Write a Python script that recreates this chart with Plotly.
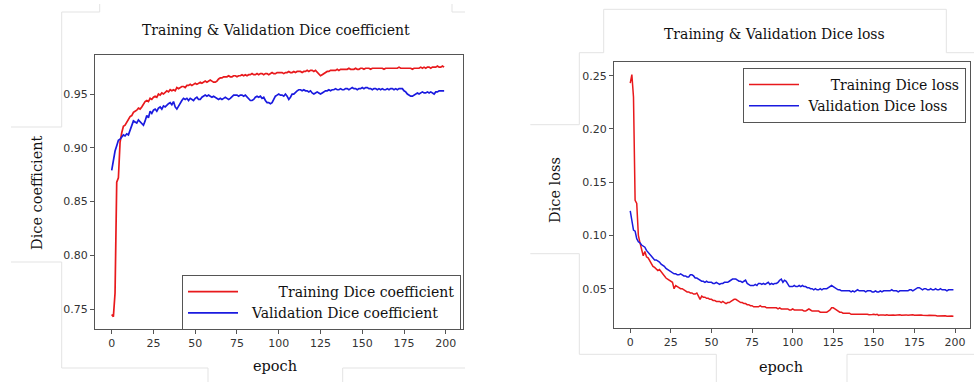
import plotly.graph_objects as go

epochs = list(range(200))

train_dice = [
    0.745, 0.743, 0.765, 0.868, 0.872, 0.905, 0.914, 0.920, 0.921, 0.924,
    0.927, 0.929, 0.930, 0.933, 0.934, 0.935, 0.937, 0.936, 0.938, 0.941,
    0.943, 0.944, 0.943, 0.946, 0.945, 0.947, 0.948, 0.947, 0.950, 0.949,
    0.951, 0.950, 0.952, 0.953, 0.952, 0.954, 0.953, 0.954, 0.953, 0.956,
    0.955, 0.956, 0.957, 0.957, 0.956, 0.958, 0.958, 0.959, 0.958, 0.959,
    0.960, 0.959, 0.960, 0.961, 0.960, 0.961, 0.962, 0.961, 0.962, 0.963,
    0.962, 0.961, 0.961, 0.962, 0.964, 0.965, 0.965, 0.966, 0.966, 0.966,
    0.967, 0.966, 0.966, 0.967, 0.967, 0.966, 0.967, 0.967, 0.968, 0.967,
    0.968, 0.967, 0.968, 0.968, 0.969, 0.968, 0.968, 0.969, 0.968, 0.969,
    0.969, 0.968, 0.969, 0.969, 0.968, 0.969, 0.970, 0.969, 0.969, 0.970,
    0.970, 0.970, 0.970, 0.969, 0.970, 0.970, 0.971, 0.970, 0.970, 0.971,
    0.970, 0.971, 0.971, 0.971, 0.970, 0.971, 0.971, 0.972, 0.971, 0.972,
    0.972, 0.971, 0.972, 0.970, 0.968, 0.967, 0.968, 0.969, 0.970, 0.971,
    0.971, 0.972, 0.972, 0.972, 0.972, 0.973, 0.972, 0.973, 0.973, 0.973,
    0.973, 0.973, 0.974, 0.973, 0.973, 0.973, 0.974, 0.973, 0.973, 0.974,
    0.974, 0.973, 0.974, 0.974, 0.974, 0.973, 0.974, 0.974, 0.974, 0.974,
    0.974, 0.974, 0.974, 0.973, 0.974, 0.974, 0.974, 0.974, 0.974, 0.974,
    0.974, 0.974, 0.975, 0.974, 0.974, 0.974, 0.974, 0.974, 0.974, 0.974,
    0.973, 0.974, 0.974, 0.974, 0.974, 0.975, 0.974, 0.975, 0.974, 0.975,
    0.975, 0.974, 0.975, 0.975, 0.975, 0.976, 0.975, 0.975, 0.976, 0.975,
]

val_dice = [
    0.879, 0.889, 0.897, 0.902, 0.907, 0.908, 0.910, 0.912, 0.911, 0.913,
    0.912, 0.916, 0.920, 0.925, 0.924, 0.923, 0.926, 0.924, 0.922, 0.921,
    0.925, 0.930, 0.928, 0.934, 0.932, 0.935, 0.936, 0.934, 0.937, 0.938,
    0.936, 0.939, 0.938, 0.940, 0.941, 0.942, 0.940, 0.943, 0.938, 0.936,
    0.939, 0.942, 0.944, 0.946, 0.945, 0.946, 0.944, 0.946, 0.945, 0.944,
    0.946, 0.947, 0.945, 0.945, 0.947, 0.948, 0.949, 0.948, 0.949, 0.948,
    0.947, 0.948, 0.947, 0.946, 0.945, 0.946, 0.945, 0.946, 0.947, 0.946,
    0.945, 0.946, 0.948, 0.949, 0.949, 0.949, 0.948, 0.949, 0.949, 0.948,
    0.949, 0.947, 0.945, 0.944, 0.944, 0.945, 0.947, 0.948, 0.947, 0.948,
    0.946, 0.947, 0.944, 0.942, 0.942, 0.941, 0.942, 0.945, 0.948, 0.949,
    0.950, 0.949, 0.949, 0.948, 0.950, 0.948, 0.945, 0.947, 0.950, 0.950,
    0.952, 0.953, 0.954, 0.954, 0.953, 0.954, 0.953, 0.953, 0.952, 0.953,
    0.951, 0.950, 0.951, 0.952, 0.951, 0.950, 0.951, 0.952, 0.953, 0.953,
    0.954, 0.953, 0.954, 0.954, 0.955, 0.954, 0.954, 0.955, 0.954, 0.954,
    0.955, 0.955, 0.954, 0.955, 0.956, 0.955, 0.955, 0.954, 0.955, 0.955,
    0.956, 0.955, 0.956, 0.956, 0.955, 0.955, 0.954, 0.955, 0.955, 0.954,
    0.955, 0.954, 0.955, 0.954, 0.954, 0.955, 0.954, 0.955, 0.955, 0.954,
    0.955, 0.954, 0.955, 0.955, 0.955, 0.953, 0.952, 0.950, 0.949, 0.948,
    0.948, 0.949, 0.950, 0.951, 0.950, 0.951, 0.952, 0.951, 0.951, 0.952,
    0.951, 0.952, 0.951, 0.950, 0.952, 0.952, 0.953, 0.953, 0.953, 0.953,
]

train_loss = [
    0.243, 0.251, 0.230, 0.133, 0.130, 0.100, 0.093, 0.086, 0.081, 0.085,
    0.080, 0.079, 0.076, 0.074, 0.071, 0.070, 0.068, 0.067, 0.068, 0.066,
    0.063, 0.062, 0.060, 0.059, 0.058, 0.057, 0.056, 0.050, 0.053, 0.052,
    0.051, 0.050, 0.050, 0.049, 0.048, 0.047, 0.047, 0.046, 0.046, 0.045,
    0.045, 0.046, 0.043, 0.040, 0.043, 0.042, 0.042, 0.041, 0.041, 0.040,
    0.040, 0.039, 0.039, 0.038, 0.038, 0.038, 0.037, 0.038, 0.037, 0.036,
    0.037, 0.037, 0.038, 0.039, 0.040, 0.040, 0.039, 0.038, 0.037, 0.037,
    0.036, 0.036, 0.035, 0.035, 0.034, 0.034, 0.033, 0.033, 0.033, 0.033,
    0.034, 0.033, 0.033, 0.033, 0.032, 0.032, 0.032, 0.032, 0.032, 0.032,
    0.032, 0.031, 0.032, 0.031, 0.031, 0.031, 0.031, 0.031, 0.030, 0.030,
    0.031, 0.030, 0.030, 0.030, 0.030, 0.030, 0.030, 0.029, 0.029, 0.030,
    0.031, 0.030, 0.029, 0.029, 0.029, 0.029, 0.029, 0.028, 0.028, 0.028,
    0.028, 0.028, 0.029, 0.030, 0.032, 0.032, 0.031, 0.030, 0.029, 0.028,
    0.028, 0.027, 0.027, 0.027, 0.027, 0.027, 0.026, 0.026, 0.026, 0.026,
    0.026, 0.0265, 0.026, 0.0262, 0.026, 0.0258, 0.026, 0.0255, 0.026, 0.0258,
    0.026, 0.0256, 0.026, 0.025, 0.0254, 0.025, 0.0252, 0.025, 0.0255, 0.025,
    0.0252, 0.025, 0.0254, 0.025, 0.0252, 0.025, 0.0255, 0.025, 0.0252, 0.025,
    0.0254, 0.025, 0.0252, 0.025, 0.0255, 0.025, 0.0251, 0.0254, 0.025, 0.0253,
    0.025, 0.0252, 0.025, 0.0249, 0.025, 0.0251, 0.0245, 0.025, 0.0248, 0.0244,
    0.0245, 0.0248, 0.0244, 0.0243, 0.0246, 0.0242, 0.0244, 0.0241, 0.0243, 0.0242,
]

val_loss = [
    0.123, 0.115, 0.105, 0.104, 0.097, 0.094, 0.093, 0.091, 0.090, 0.089,
    0.086, 0.084, 0.082, 0.080, 0.078, 0.077, 0.077, 0.076, 0.075, 0.073,
    0.072, 0.071, 0.069, 0.068, 0.067, 0.066, 0.065, 0.064, 0.064, 0.063,
    0.063, 0.064, 0.063, 0.062, 0.062, 0.061, 0.061, 0.063, 0.063, 0.062,
    0.060, 0.060, 0.059, 0.058, 0.057, 0.057, 0.056, 0.057, 0.056, 0.056,
    0.056, 0.055, 0.055, 0.056, 0.055, 0.054, 0.055, 0.055, 0.056, 0.056,
    0.056, 0.057, 0.058, 0.059, 0.059, 0.059, 0.058, 0.057, 0.057, 0.056,
    0.057, 0.058, 0.055, 0.054, 0.053, 0.053, 0.053, 0.054, 0.053, 0.055,
    0.055, 0.054, 0.055, 0.054, 0.055, 0.056, 0.054, 0.055, 0.054, 0.055,
    0.055, 0.056, 0.058, 0.059, 0.056, 0.058, 0.057, 0.054, 0.052, 0.052,
    0.052, 0.053, 0.052, 0.052, 0.053, 0.052, 0.053, 0.052, 0.052, 0.051,
    0.051, 0.050, 0.050, 0.049, 0.050, 0.049, 0.049, 0.050, 0.049, 0.050,
    0.050, 0.050, 0.051, 0.052, 0.053, 0.052, 0.051, 0.050, 0.049, 0.049,
    0.048, 0.048, 0.048, 0.048, 0.048, 0.048, 0.047, 0.048, 0.047, 0.048,
    0.049, 0.048, 0.048, 0.048, 0.048, 0.047, 0.048, 0.048, 0.048, 0.047,
    0.047, 0.048, 0.047, 0.047, 0.048, 0.047, 0.048, 0.048, 0.048, 0.048,
    0.048, 0.049, 0.048, 0.048, 0.048, 0.047, 0.048, 0.048, 0.048, 0.048,
    0.048, 0.048, 0.049, 0.049, 0.048, 0.049, 0.050, 0.051, 0.051, 0.050,
    0.049, 0.050, 0.050, 0.049, 0.049, 0.050, 0.049, 0.049, 0.050, 0.049,
    0.049, 0.050, 0.049, 0.049, 0.049, 0.048, 0.049, 0.049, 0.049, 0.049,
]

x_ticks = [0, 25, 50, 75, 100, 125, 150, 175, 200]
dice_ticks = [0.75, 0.80, 0.85, 0.90, 0.95]
loss_ticks = [0.05, 0.10, 0.15, 0.20, 0.25]

W, H = 974, 382
SERIF = "DejaVu Serif"
SANS = "DejaVu Sans"
NB = "\u00a0"

def px(x):
    return x / W

def py(y):
    return 1 - y / H

fig = go.Figure()

fig.add_trace(go.Scatter(x=epochs, y=train_dice, mode="lines", name=NB * 8 + "Training Dice coefficient",
                         line=dict(color="#e8191c", width=1.7), xaxis="x", yaxis="y", legend="legend"))
fig.add_trace(go.Scatter(x=epochs, y=val_dice, mode="lines", name=NB * 2 + "Validation Dice coefficient",
                         line=dict(color="#1a1adf", width=1.7), xaxis="x", yaxis="y", legend="legend"))
fig.add_trace(go.Scatter(x=epochs, y=train_loss, mode="lines", name=NB * 6 + "Training Dice loss",
                         line=dict(color="#e8191c", width=1.5), xaxis="x2", yaxis="y2", legend="legend2"))
fig.add_trace(go.Scatter(x=epochs, y=val_loss, mode="lines", name=NB * 1 + "Validation Dice loss",
                         line=dict(color="#1a1adf", width=1.5), xaxis="x2", yaxis="y2", legend="legend2"))

axis_common = dict(showline=True, linecolor="#555555", linewidth=1.3, mirror=True,
                   ticks="outside", ticklen=4, tickcolor="#555555", tickwidth=1,
                   showgrid=False, zeroline=False,
                   tickfont=dict(family=SANS, size=11, color="#333333"))

legend_common = dict(bgcolor="rgba(255,255,255,1)", bordercolor="#555555", borderwidth=1,
                     font=dict(family=SERIF, size=14, color="#111111"),
                     itemwidth=50, tracegroupgap=0, xanchor="left", yanchor="top")

fig.update_layout(
    width=W, height=H,
    margin=dict(l=0, r=0, t=0, b=0),
    paper_bgcolor="white", plot_bgcolor="white",
    xaxis=dict(domain=[px(95), px(462.5)], range=[-10, 210], tickvals=x_ticks, anchor="y", **axis_common),
    yaxis=dict(domain=[py(328.7), py(55)], range=[0.7318, 0.9863], tickvals=dice_ticks,
               tickformat=".2f", anchor="x", **axis_common),
    xaxis2=dict(domain=[px(614), px(970)], range=[-10, 209.2], tickvals=x_ticks, anchor="y2", **axis_common),
    yaxis2=dict(domain=[py(328), py(62)], range=[0.0131, 0.2629], tickvals=loss_ticks,
                tickformat=".2f", anchor="x2", **axis_common),
    legend=dict(x=px(182), y=py(275), **legend_common),
    legend2=dict(x=px(743), y=py(68), **legend_common),
)

annotations = [
    dict(text="Training & Validation Dice coefficient", x=px(275.5), y=py(30), size=14),
    dict(text="Training & Validation Dice loss", x=px(774.5), y=py(34), size=14),
    dict(text="epoch", x=px(275), y=py(366), size=14.5),
    dict(text="epoch", x=px(781), y=py(367), size=14.5),
]
for a in annotations:
    fig.add_annotation(text=a["text"], x=a["x"], y=a["y"], xref="paper", yref="paper",
                       showarrow=False, xanchor="center", yanchor="middle",
                       font=dict(family=SERIF, size=a["size"], color="#111111"))
fig.add_annotation(text="Dice coefficient", x=px(37), y=py(193), xref="paper", yref="paper",
                   showarrow=False, textangle=-90, xanchor="center", yanchor="middle",
                   font=dict(family=SERIF, size=14.5, color="#111111"))
fig.add_annotation(text="Dice loss", x=px(555), y=py(190), xref="paper", yref="paper",
                   showarrow=False, textangle=-90, xanchor="center", yanchor="middle",
                   font=dict(family=SERIF, size=14.5, color="#111111"))

# faint page-layout guide lines seen in the reference composite
guides = [
    (99.7, 4, 99.7, 12), (61.7, 12, 99.7, 12), (61.7, 12, 61.7, 127), (11, 127, 61.7, 127),
    (452, 4, 452, 12), (452, 12, 465, 12),
    (11, 262, 61.7, 262), (61.7, 262, 61.7, 368), (61.7, 368, 208, 368), (208, 368, 208, 382),
    (342.7, 368, 342.7, 382), (342.7, 368, 465, 368),
    (603.7, 9.3, 946.3, 9.3), (603.7, 9.3, 603.7, 52.7), (579.3, 52.7, 603.7, 52.7),
    (579.3, 52.7, 579.3, 124.7), (530.3, 124.7, 579.3, 124.7),
    (946.3, 9.3, 946.3, 52.7), (946.3, 52.7, 974, 52.7),
    (530.3, 253.7, 579.3, 253.7), (579.3, 253.7, 579.3, 354.3), (579.3, 354.3, 716.3, 354.3),
    (716.3, 354.3, 716.3, 382), (847, 354.3, 847, 382), (847, 354.3, 974, 354.3),
]
for x0, y0, x1, y1 in guides:
    fig.add_shape(type="line", xref="paper", yref="paper", x0=px(x0), y0=py(y0), x1=px(x1), y1=py(y1),
                  line=dict(color="#e3e3e3", width=1), layer="below")

fig.write_html("out.html")
